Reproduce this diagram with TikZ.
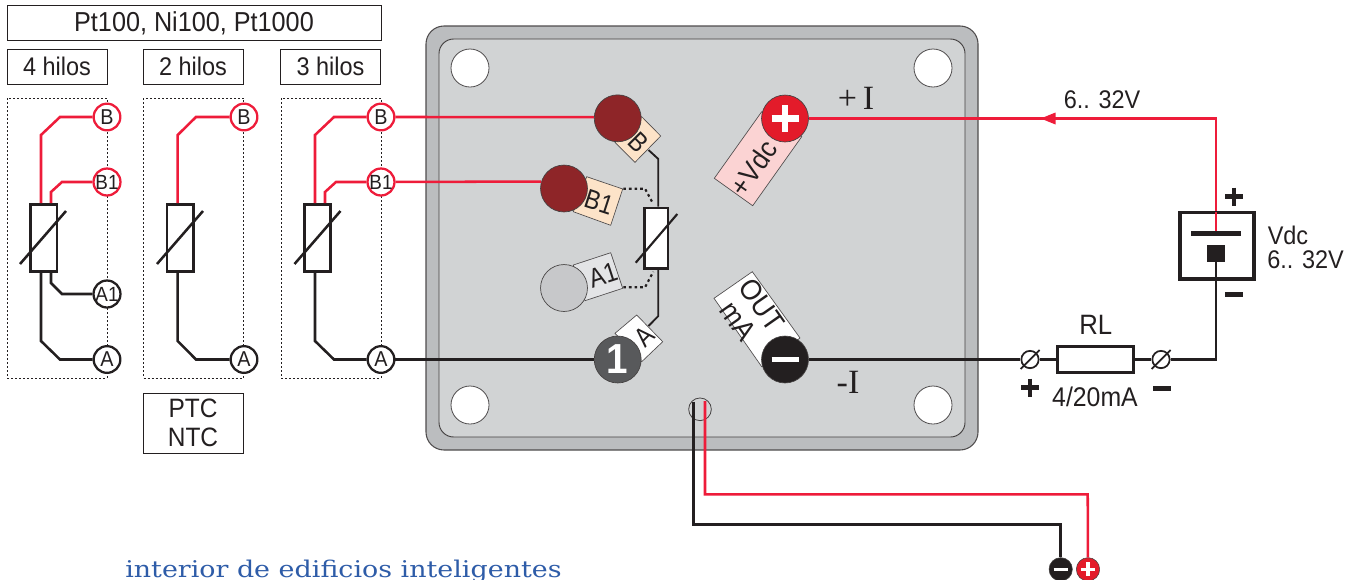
\documentclass[tikz,border=0pt]{standalone}
\usepackage{fontspec}
\setmainfont[FakeStretch=0.92]{Liberation Sans}
\newfontfamily\bookfont[FakeStretch=1.17]{DejaVu Serif}
\newfontfamily\timesf{Liberation Serif}
\newfontfamily\cnd[FakeStretch=0.86]{Liberation Sans}
\usetikzlibrary{arrows.meta}
\definecolor{wred}{HTML}{EE1C3A}
\definecolor{ink}{HTML}{231F20}
\definecolor{panelout}{HTML}{BBBDBF}
\definecolor{panelin}{HTML}{D1D3D4}
\definecolor{dkred}{HTML}{8E2528}
\definecolor{tagorange}{HTML}{FDE3C8}
\definecolor{tagpink}{HTML}{FBD3D3}
\definecolor{taggrey}{HTML}{E3E4E6}
\definecolor{blobgrey}{HTML}{C7C8CA}
\definecolor{termred}{HTML}{E31B2A}
\definecolor{darkone}{HTML}{58595B}
\definecolor{blueink}{HTML}{2E5CA8}
\newcommand{\fsz}[1]{\fontsize{\dimexpr#1pt*3/4\relax}{\dimexpr#1pt*9/10\relax}\selectfont}
\tikzset{
  titlebox/.style={draw=ink,line width=0.7pt,minimum height=26.25pt,inner sep=0pt,text=ink,text height=13.5pt,text depth=0pt,font=\fsz{25.5}},
  dotbox/.style={draw=ink,line width=0.6pt,dash pattern=on 1.5pt off 1.5pt},
  pin/.style={circle,draw=#1,fill=white,line width=1.7pt,minimum size=20pt,inner sep=0pt,text=ink,font=\fsz{21.5}},
  rtd/.style={draw=ink,fill=white,line width=2pt,minimum width=19.7pt,minimum height=50.5pt,inner sep=0pt},
  redw/.style={draw=wred,line width=1.9pt},
  blkw/.style={draw=ink,line width=1.9pt},
  slash/.style={draw=ink,line width=1.9pt},
  tag/.style={draw=ink!80,line width=0.5pt},
  tagtxt/.style={inner sep=0pt,text=ink,font=\cnd\fsz{27}},
  term/.style={circle,draw=ink!85,line width=0.5pt,minimum size=35.2pt,inner sep=0pt},
  hole/.style={circle,draw=ink!80,fill=white,line width=0.6pt,minimum size=28.5pt,inner sep=0pt},
  lab/.style={inner sep=0pt,text=ink,font=\fsz{25.5}},
  screw/.style={circle,draw=ink,line width=1.3pt,minimum size=13pt,inner sep=0pt},
  sym/.style={draw=ink,line width=3.6pt},
}
\begin{document}
\begin{tikzpicture}[x=0.75pt,y=-0.75pt]
\useasboundingbox (0,0) rectangle (1358,579);
% header boxes
\node[titlebox,minimum width=280.5pt,font=\fsz{27.4}] (hdr) at (194,22.5) {Pt100, Ni100, Pt1000};
\node[titlebox,minimum width=75pt] (h4) at (57,66.5) {4 hilos};
\node[titlebox,minimum width=75pt] (h2) at (193,66.5) {2 hilos};
\node[titlebox,minimum width=75pt] (h3) at (330.5,66.5) {3 hilos};
\node[draw=ink,line width=0.7pt,minimum width=75pt,minimum height=45pt,inner sep=0pt,align=center,text=ink,font=\fsz{26.6}] (ptc) at (193,423) {PTC\\[-2.5pt]NTC};
% dotted frames
\draw[dotbox] (7,98) rectangle (107,378);
\draw[dotbox] (143.5,98) rectangle (243.5,378);
\draw[dotbox] (281,98) rectangle (381,378);
% panel
\draw[draw=ink!80,fill=panelout,line width=0.8pt,rounded corners=13.5pt] (426,26) rectangle (978,450);
\draw[draw=ink!85,fill=panelin,line width=0.7pt,rounded corners=11pt] (439,39) rectangle (965,437);
\node[hole] (h1) at (470,68) {};
\node[hole] (h5) at (933,68) {};
\node[hole] (h6) at (470,405) {};
\node[hole] (h7) at (933,405) {};
% tags
\draw[tag,fill=tagorange] (641.7,116.7) -- (660.7,136) -- (635,162.3) -- (615,142.3) -- cycle;
\draw[tag,fill=tagorange] (586.7,176.7) -- (622.7,189) -- (610.7,225.3) -- (573.3,211.7) -- cycle;
\draw[tag,fill=taggrey] (573.3,265) -- (610.7,252.7) -- (622.7,288.3) -- (585,300.7) -- cycle;
\draw[tag,fill=white] (636.7,315) -- (662.7,341.7) -- (641.7,361.7) -- (615,333.3) -- cycle;
\draw[tag,fill=tagpink] (761.7,111.7) -- (714.3,178.3) -- (752.7,205.7) -- (801.7,136.7) -- cycle;
\draw[tag,fill=white] (752.3,271.7) -- (714,298.3) -- (761.7,366.7) -- (800,338) -- cycle;
\node[tagtxt,rotate=-45] (tB) at (639,142) {B};
\node[tagtxt,rotate=-18] (tB1) at (599,202) {B1};
\node[tagtxt,rotate=18] (tA1) at (603,275) {A1};
\node[tagtxt,rotate=45] (tA) at (644,336.5) {A};
\node[tagtxt,rotate=55,font=\fsz{28}] (tV) at (753.5,168) {+Vdc};
\node[tagtxt,rotate=-55,align=center,font=\fsz{29}] (tO) at (750,313) {OUT\\[-4.5pt]mA};
% terminals
\node[term,fill=dkred] (tmB) at (617.7,118.3) {};
\node[term,fill=dkred] (tmB1) at (564,188.5) {};
\node[term,fill=blobgrey] (tmA1) at (564,288) {};
\node[term,fill=darkone,text=white,font=\bfseries\fsz{42}] (tm1) at (617.7,359.5) {1};
\node[term,fill=termred] (tmP) at (785,118.5) {};
\node[term,fill=ink] (tmN) at (785,359.5) {};
\draw[white,line width=4.6pt] (tmP.center)+(-13.5,0) -- +(13.5,0) (tmP.center)+(0,-13.5) -- +(0,13.5);
\draw[white,line width=3.8pt] (tmN.center)+(-13.5,0) -- +(13.5,0);
% cable gland
\node[circle,draw=ink!85,line width=0.6pt,minimum size=17pt,inner sep=0pt] (gl) at (700,409.3) {};
% probe pins
\foreach \n/\x in {a/107,b/244,c/381}{
  \node[pin=wred] (\n B) at (\x,117) {B};
  \node[pin=ink] (\n A) at (\x,359.5) {A};
}
\node[pin=wred,font=\fsz{20.5}] (aB1) at (107,182) {B1};
\node[pin=wred,font=\fsz{20.5}] (cB1) at (381,182) {B1};
\node[pin=ink,font=\fsz{20.5}] (aA1) at (107,294) {A1};
% resistors
\node[rtd] (ra) at (43.8,238) {};
\node[rtd] (rb) at (180.2,238) {};
\node[rtd] (rc) at (317.5,238) {};
\node[rtd,minimum width=17.5pt,minimum height=45.5pt] (rd) at (656.3,238.3) {};
% probe wiring
\draw[redw] (aB) -- (60,117) -- (41,135) -- (41,203);
\draw[redw] (aB1) -- (62,182) -- (51,192) -- (51,203);
\draw[blkw] (aA1) -- (62,294) -- (51,283) -- (51,273);
\draw[blkw] (aA) -- (60,359.5) -- (41,341) -- (41,273);
\draw[redw] (bB) -- (196,117) -- (177.7,135) -- (177.7,203);
\draw[blkw] (bA) -- (196,359.5) -- (177.7,341) -- (177.7,273);
\draw[redw] (cB) -- (334,117) -- (315,135) -- (315,203);
\draw[redw] (cB1) -- (336,182) -- (325,192) -- (325,203);
\draw[blkw] (cA) -- (334,359.5) -- (315,341) -- (315,273);
\draw[slash] (20,264) -- (66,211);
\draw[slash] (157,264) -- (203,211);
\draw[slash] (294.5,264) -- (340.5,211);
% panel wiring
\draw[redw] (cB) -- (tmB.177);
\draw[redw] (cB1) -- (tmB1.163);
\draw[blkw] (cA) -- (tm1);
\draw[draw=ink,line width=1.4pt] (648.5,150) -- (658.3,159) -- (rd.north -| 658.3,0);
\draw[draw=ink,line width=1.4pt] (648.5,326) -- (658.3,316) -- (rd.south -| 658.3,0);
\draw[draw=ink,line width=1.6pt,dash pattern=on 2pt off 2.2pt] (623.3,188.7) -- (645,188.7) -- (653.3,204);
\draw[draw=ink,line width=1.6pt,dash pattern=on 2pt off 2.2pt] (623.3,287.3) -- (645,287.3) -- (653.3,271.7);
\draw[slash,line width=1.6pt] (635.7,262.7) -- (677.3,214);
% source
\node[draw=ink,fill=white,line width=2.6pt,minimum width=55.5pt,minimum height=50pt,inner sep=0pt] (src) at (1217,245.7) {};
\fill[ink] (1190.7,231) rectangle (1241,236);
\node[fill=ink,minimum width=13.5pt,minimum height=12.4pt,inner sep=0pt] (srcm) at (1216,253.3) {};
\coordinate (jn) at (1216,118.5);
\draw[draw=wred,line width=1pt] (1216,212) -- (1216,231);
\draw[redw] (src.north -| jn) -- (jn) -- (tmP);
\fill[wred] (1040.7,118.5) -- (1055.5,112.5) -- (1055.5,124.5) -- cycle;
% load
\node[draw=ink,fill=white,line width=2.4pt,minimum width=57pt,minimum height=19pt,inner sep=0pt] (rl) at (1095.5,359.5) {};
\node[screw] (s1) at (1030,359.5) {};
\node[screw] (s2) at (1161,359.5) {};
\draw[ink,line width=1.3pt] (1020.5,369) -- (1039.5,350);
\draw[ink,line width=1.3pt] (1151.5,369) -- (1170.5,350);
\coordinate (cn) at (1216,359.5);
\draw[blkw] (tmN) -- (s1);
\draw[blkw] (s1) -- (rl);
\draw[blkw] (rl) -- (s2);
\draw[blkw] (s2) -- (cn) -- (src.south -| cn);
\draw[draw=ink,line width=1pt] (srcm) -- (src.south -| cn);
% plus/minus signs
\draw[sym] (1225,196.7) -- (1243,196.7) (1234,187.7) -- (1234,205.7);
\draw[sym] (1225,294.3) -- (1243,294.3);
\draw[sym] (1021,387.7) -- (1039,387.7) (1030,378.7) -- (1030,396.7);
\draw[sym] (1153,388.3) -- (1171,388.3);
% texts
\node[lab,font=\fsz{28}] (tRL) at (1095.7,325) {RL};
\node[lab,font=\fsz{27}] (tma) at (1095,396.7) {4/20mA};
\node[lab,anchor=west] (tVd) at (1267.5,235) {Vdc};
\node[lab,anchor=west] (tVr) at (1267,260) {6.. 32V};
\node[lab] (tTop) at (1102,100) {6.. 32V};
\node[inner sep=0pt,text=ink,font=\timesf\fsz{34}] (ip) at (856,98) {+\,I};
\node[inner sep=0pt,text=ink,font=\timesf\fsz{34}] (im) at (848,382) {-I};
% bottom cable
\node[circle,fill=ink,draw=ink!85,line width=0.4pt,minimum size=17.5pt,inner sep=0pt] (cm) at (1060.7,569.3) {};
\node[circle,fill=termred,draw=ink!85,line width=0.4pt,minimum size=17.5pt,inner sep=0pt] (cp) at (1088,569.3) {};
\draw[white,line width=2.4pt] (cm.center)+(-7,0) -- +(7,0);
\draw[white,line width=2.4pt] (cp.center)+(-7,0) -- +(7,0) (cp.center)+(0,-7) -- +(0,7);
\coordinate (gk) at (693.3,401.7);
\coordinate (gr) at (705,401);
\draw[blkw] (gk) -- (693.3,524.3) -- (1060.7,524.3) -- (cm);
\draw[redw] (gr) -- (705,494.3) -- (1087.7,494.3) -- (cp);
\node[anchor=base west,inner sep=0pt,text=blueink,font=\bookfont\fsz{23}] (foot) at (125,577.5) {interior de edificios inteligentes};
\end{tikzpicture}
\end{document}
